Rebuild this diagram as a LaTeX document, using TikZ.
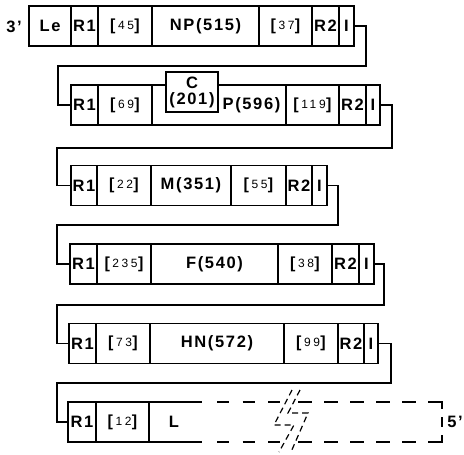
\documentclass[tikz,border=0pt]{standalone}
\usepackage{fontspec}
\newfontfamily\lblfam{Liberation Sans}[LetterSpace=10]
\newfontfamily\brfam{Liberation Sans}
\newfontfamily\dgfam{Liberation Sans}[LetterSpace=22]
\newcommand\lbl{\lblfam\bfseries\fontsize{16.5}{18}\selectfont}
% intergenic length: brackets round small digits
\newcommand\bn[1]{{\brfam\bfseries\fontsize{16}{18}\selectfont[}\kern2.5pt{\dgfam\mdseries\fontsize{12}{14}\selectfont\raisebox{1pt}{#1}}\kern0.5pt{\brfam\bfseries\fontsize{16}{18}\selectfont]}}
\begin{document}
\begin{tikzpicture}[x=1pt,y=-1pt]
\tikzset{
  cell/.style={draw, line width=1.2pt, minimum height=40pt, inner sep=0pt, outer sep=0pt, font=\lbl},
  txt/.style={inner sep=0pt, font=\lbl},
  conn/.style={line width=1.2pt},
  gapline/.style={line width=1.2pt, dash pattern=on 14pt off 12pt},
  brk/.style={line width=1.2pt, dash pattern=on 6pt off 4pt},
}
\fill[white] (0,0) rectangle (464,455);
\useasboundingbox (0,0) rectangle (464,455);

% end labels
\node[txt] (end3) at (14,27) {3’};
\node[txt] (end5) at (455,422) {5’};

% row 1
\node[cell, minimum width=42pt]  (r1Le) at (50,26)    {Le};
\node[cell, minimum width=27pt]  (r1R1) at (84.5,26)  {R1};
\node[cell, minimum width=54pt]  (r1u)  at (125,26)   {\bn{45}};
\node[cell, minimum width=107pt] (r1G)  at (205.5,26) {NP(515)};
\node[cell, minimum width=53pt]  (r1d)  at (285.5,26) {\bn{37}};
\node[cell, minimum width=27pt]  (r1R2) at (325.5,26) {R2};
\node[cell, minimum width=15pt]  (r1I)  at (346.5,26) {I};

% row 2
\node[cell, minimum width=27pt]  (r2R1) at (84.5,105)  {R1};
\node[cell, minimum width=54pt]  (r2u)  at (125,105)   {\bn{69}};
\node[cell, minimum width=134pt] (r2G)  at (219,105)   {};
\node[cell, minimum width=53pt]  (r2d)  at (312.5,105) {\bn{119}};
\node[cell, minimum width=27pt]  (r2R2) at (352.5,105) {R2};
\node[cell, minimum width=14pt]  (r2I)  at (373,105)   {I};
\node[cell, fill=white, minimum width=52pt, align=center] (r2C) at (192,92) {C\\[-2pt](201)};
\node[txt] (r2P) at (251.5,105) {P(596)};

% row 3
\node[cell, minimum width=26pt]  (r3R1) at (84,185.5)    {R1};
\node[cell, minimum width=54pt]  (r3u)  at (124,185.5)   {\bn{22}};
\node[cell, minimum width=80pt]  (r3G)  at (191,185.5)   {M(351)};
\node[cell, minimum width=55pt]  (r3d)  at (258.5,185.5) {\bn{55}};
\node[cell, minimum width=26pt]  (r3R2) at (299,185.5)   {R2};
\node[cell, minimum width=15pt]  (r3I)  at (319.5,185.5) {I};

% row 4
\node[cell, minimum width=27pt]  (r4R1) at (83.5,264)  {R1};
\node[cell, minimum width=54pt]  (r4u)  at (124,264)   {\bn{235}};
\node[cell, minimum width=127pt] (r4G)  at (214.5,264) {F(540)};
\node[cell, minimum width=54pt]  (r4d)  at (305,264)   {\bn{38}};
\node[cell, minimum width=27pt]  (r4R2) at (345.5,264) {R2};
\node[cell, minimum width=15pt]  (r4I)  at (366.5,264) {I};

% row 5
\node[cell, minimum width=27pt]  (r5R1) at (82.5,343.5) {R1};
\node[cell, minimum width=54pt]  (r5u)  at (123,343.5)  {\bn{73}};
\node[cell, minimum width=134pt] (r5G)  at (217,343.5)  {HN(572)};
\node[cell, minimum width=54pt]  (r5d)  at (311,343.5)  {\bn{99}};
\node[cell, minimum width=26pt]  (r5R2) at (351,343.5)  {R2};
\node[cell, minimum width=14pt]  (r5I)  at (371,343.5)  {I};

% row 6
\node[cell, minimum width=28pt]  (r6R1) at (82,422)    {R1};
\node[cell, minimum width=53pt]  (r6u)  at (122.5,422) {\bn{12}};
\node[txt] (r6L) at (174,422) {L};

% open-ended L gene
\draw[conn] (149,402) -- (202,402);
\draw[conn] (149,442) -- (202,442);
\draw[conn, dash pattern=on 12pt off 13.5pt] (217,402) -- (281,402);
\draw[conn, dash pattern=on 12pt off 13.5pt] (217,442) -- (281,442);
\draw[gapline] (298,402) -- (420,402);
\draw[gapline] (298,442) -- (420,442);
\draw[conn] (428,402) -- (442,402) -- (442,409);
\draw[conn] (442,417) -- (442,427);
\draw[conn] (442,435) -- (442,442) -- (428,442);
% break marks
\draw[brk] (292,390) -- (274,425) -- (294,425) -- (279,452);
\draw[brk] (300,390) -- (288,413) -- (308,413) -- (291,452);

% connectors between rows
\coordinate (k1) at (366,66);  \coordinate (j1) at (58,66);
\coordinate (k2) at (392,148); \coordinate (j2) at (57,148);
\coordinate (k3) at (338,225); \coordinate (j3) at (57,225);
\coordinate (k4) at (384,305); \coordinate (j4) at (57,305);
\coordinate (k5) at (391,383); \coordinate (j5) at (57,383);
\draw[conn] (r1I.east) -| (k1) -- (j1) |- (r2R1.west);
\draw[conn] (r2I.east) -| (k2) -- (j2) |- (r3R1.west);
\draw[conn] (r3I.east) -| (k3) -- (j3) |- (r4R1.west);
\draw[conn] (r4I.east) -| (k4) -- (j4) |- (r5R1.west);
\draw[conn] (r5I.east) -| (k5) -- (j5) |- (r6R1.west);
\end{tikzpicture}
\end{document}
